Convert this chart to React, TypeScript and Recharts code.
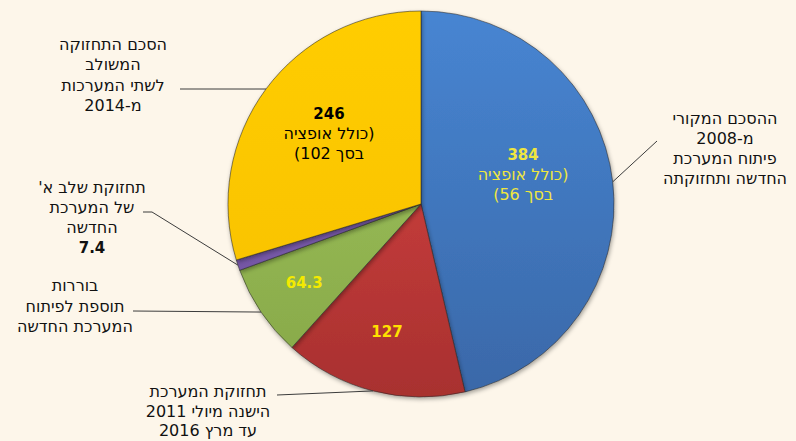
import React from "react";
import { PieChart, Pie, Cell } from "recharts";

if (typeof document !== "undefined") {
  document.body.style.margin = "0";
  document.body.style.background = "#fdf6ea";
}

// ---- data ----
const categories = [
  "ההסכם המקורי מ-2008 פיתוח המערכת החדשה ותחזוקתה",
  "תחזוקת המערכת הישנה מיולי 2011 עד מרץ 2016",
  "בוררות תוספת לפיתוח המערכת החדשה",
  "תחזוקת שלב א' של המערכת החדשה",
  "הסכם התחזוקה המשולב לשתי המערכות מ-2014",
];
const values = [384, 127, 64.3, 7.4, 246];
const valueLabels = ["384", "127", "64.3", "7.4", "246"];
const outerLabelLines: string[][] = [
  ["ההסכם המקורי", "מ-2008", "פיתוח המערכת", "החדשה ותחזוקתה"],
  ["תחזוקת המערכת", "הישנה מיולי 2011", "עד מרץ 2016"],
  ["בוררות", "תוספת לפיתוח", "המערכת החדשה"],
  ["תחזוקת שלב א'", "של המערכת", "החדשה"],
  ["הסכם התחזוקה", "המשולב", "לשתי המערכות", "מ-2014"],
];
const innerNotes: string[][] = [
  ["(כולל אופציה", "בסך 56)"],
  [],
  [],
  [],
  ["(כולל אופציה", "בסך 102)"],
];
const valueInside = [true, true, true, false, true];

const data = categories.map((name, i) => ({ name, value: values[i] }));

// ---- styles / layout ----
const W = 796;
const H = 441;
const CX = 421;
const CY = 204;
const R = 193;
const FONT = "'DejaVu Sans', Verdana, sans-serif";
const BG = "#fdf6ea";
const TXT = 16;
const TEXT_COLOR = "#111111";

const sliceGradients = [
  ["#4785d2", "#3a68a8"],
  ["#dc4745", "#a8302f"],
  ["#a2c75e", "#86a748"],
  ["#8a6cc0", "#6a4c98"],
  ["#ffcd00", "#f7bf00"],
];

const innerLayout = [
  { angleOffset: 9.3, rFrac: 0.55, color: "#efe640" },
  { angleOffset: -0.5, rFrac: 0.686, color: "#ffe100" },
  { angleOffset: 0, rFrac: 0.73, color: "#f4ea00" },
  null,
  { angleOffset: -0.85, rFrac: 0.6, color: "#000000" },
];

const outerLayout = [
  { x: 725, y: 124, lh: 20, from: [[657, 141]] },
  { x: 208, y: 397, lh: 19.6, from: [[277, 395]] },
  { x: 75, y: 291, lh: 20.5, from: [[133, 311]] },
  { x: 92, y: 193, lh: 20, from: [[143, 212], [152, 212]] },
  { x: 113, y: 50, lh: 20.3, from: [[180, 89]] },
];

const RAD = Math.PI / 180;

const renderLabel = (props: any) => {
  const { cx, cy, midAngle, outerRadius, index } = props;
  const parts: React.ReactNode[] = [];
  const o = outerLayout[index];
  const ex = cx + outerRadius * Math.cos(-midAngle * RAD);
  const ey = cy + outerRadius * Math.sin(-midAngle * RAD);
  const pts = [...o.from, [ex, ey]].map((p) => p.join(",")).join(" ");
  parts.push(
    <polyline key="ll" points={pts} fill="none" stroke="#3c3c3c" strokeWidth={1} />
  );
  const lines = outerLabelLines[index];
  lines.forEach((t, k) => {
    parts.push(
      <text
        key={"o" + k}
        x={o.x}
        y={o.y + k * o.lh}
        textAnchor="middle"
        fontFamily={FONT}
        fontSize={TXT}
        fill={TEXT_COLOR}
        style={{ direction: "rtl" }}
      >
        {t}
      </text>
    );
  });
  if (!valueInside[index]) {
    parts.push(
      <text
        key="ov"
        x={o.x}
        y={o.y + lines.length * o.lh}
        textAnchor="middle"
        fontFamily={FONT}
        fontSize={15}
        fontWeight="bold"
        fill={TEXT_COLOR}
      >
        {valueLabels[index]}
      </text>
    );
  }
  const il = innerLayout[index];
  if (il && valueInside[index]) {
    const a = midAngle + il.angleOffset;
    const r = outerRadius * il.rFrac;
    const ix = cx + r * Math.cos(-a * RAD);
    const iy = cy + r * Math.sin(-a * RAD);
    const notes = innerNotes[index];
    const n = notes.length + 1;
    const lh = 20;
    const y0 = iy - ((n - 1) * lh) / 2 + 5.5;
    parts.push(
      <text
        key="iv"
        x={ix}
        y={y0}
        textAnchor="middle"
        fontFamily={FONT}
        fontSize={15}
        fontWeight="bold"
        fill={il.color}
      >
        {valueLabels[index]}
      </text>
    );
    notes.forEach((t, k) => {
      parts.push(
        <text
          key={"in" + k}
          x={ix}
          y={y0 + (k + 1) * lh}
          textAnchor="middle"
          fontFamily={FONT}
          fontSize={TXT}
          fill={il.color}
          style={{ direction: "rtl" }}
        >
          {t}
        </text>
      );
    });
  }
  return <g>{parts}</g>;
};

export default function App() {
  return (
    <div style={{ width: W, height: H, background: BG }}>
      <PieChart width={W} height={H} margin={{ top: 0, right: 0, bottom: 0, left: 0 }}>
        <defs>
          {sliceGradients.map((g, i) => (
            <linearGradient
              key={i}
              id={"sg" + i}
              gradientUnits="userSpaceOnUse"
              x1={0}
              y1={CY - R}
              x2={0}
              y2={CY + R}
            >
              <stop offset="0%" stopColor={g[0]} />
              <stop offset="100%" stopColor={g[1]} />
            </linearGradient>
          ))}
          <filter id="pieShadow" x="-10%" y="-10%" width="120%" height="125%">
            <feDropShadow dx="1" dy="2" stdDeviation="2" floodColor="#000" floodOpacity="0.35" />
          </filter>
        </defs>
        <Pie
          data={data}
          dataKey="value"
          nameKey="name"
          cx={CX}
          cy={CY}
          outerRadius={R}
          startAngle={90}
          endAngle={-270}
          isAnimationActive={false}
          label={renderLabel}
          labelLine={false}
          style={{ filter: "url(#pieShadow)" }}
        >
          {data.map((d, i) => (
            <Cell
              key={i}
              fill={`url(#sg${i})`}
              stroke="rgba(40,40,40,0.55)"
              strokeWidth={1}
            />
          ))}
        </Pie>
      </PieChart>
    </div>
  );
}
